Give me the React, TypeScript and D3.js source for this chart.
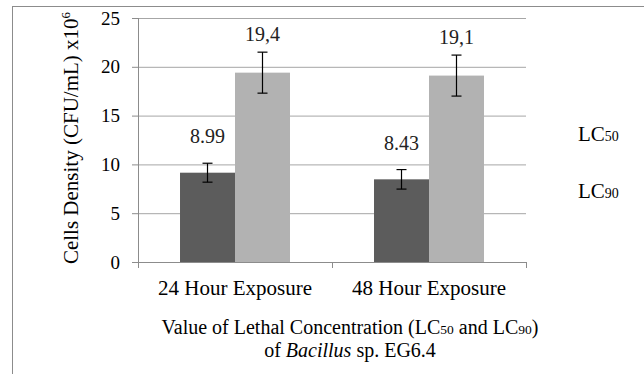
import React from 'react'
import * as d3 from 'd3'

const categories = ['24 Hour Exposure', '48 Hour Exposure']
const series = ['LC50', 'LC90']
const lc50Values = [9.15, 8.47]
const lc90Values = [19.4, 19.1]
const lc50Errors = [0.97, 1.0]
const lc90Errors = [2.1, 2.1]
const lc50Labels = ['8.99', '8.43']
const lc90Labels = ['19,4', '19,1']
const yTicks = [0, 5, 10, 15, 20, 25]

const W = 644
const H = 374
const ts = { fontFamily: "'Liberation Serif'" }
const colors = { LC50: '#5c5c5c', LC90: '#b2b2b2' }
const labelGap = { LC50: 20, LC90: 11.5 }

export default function App() {
  const y = d3.scaleLinear().domain([0, 25]).range([262, 18])
  const x0 = d3.scaleBand().domain(categories).range([138, 526])
  const x1 = d3
    .scaleBand()
    .domain(series)
    .range([0, x0.bandwidth()])
    .paddingInner(0)
    .paddingOuter(0.764)

  const rows = categories.map((c, i) => ({
    cat: c,
    bars: [
      { s: 'LC50', v: lc50Values[i], e: lc50Errors[i], label: lc50Labels[i] },
      { s: 'LC90', v: lc90Values[i], e: lc90Errors[i], label: lc90Labels[i] },
    ],
  }))

  const [x0min, x0max] = x0.range()

  return (
    <svg width={W} height={H} style={{ position: 'absolute', left: 0, top: 0, background: '#fff' }}>
      {/* frame */}
      <line x1={12} x2={W} y1={6.5} y2={6.5} stroke="#8c8c8c" />
      <line x1={12.5} x2={12.5} y1={6} y2={H} stroke="#8c8c8c" />

      {/* grid */}
      {yTicks.map((t) => (
        <g key={t}>
          {t > 0 && (
            <line x1={x0min} x2={x0max} y1={y(t) + 0.5} y2={y(t) + 0.5} stroke="#a6a6a6" />
          )}
          <line x1={x0min - 6} x2={x0min} y1={y(t) + 0.5} y2={y(t) + 0.5} stroke="#8c8c8c" />
          <text x={x0min - 18} y={y(t) + 6.5} textAnchor="end" fontSize={19} fill="#000" style={ts}>
            {t}
          </text>
        </g>
      ))}

      {/* bars */}
      {rows.map((r) => (
        <g key={r.cat} transform={`translate(${x0(r.cat)},0)`}>
          {r.bars.map((b) => {
            const bx = x1(b.s)!
            const cx = bx + x1.bandwidth() / 2
            return (
              <g key={b.s}>
                <rect
                  x={bx}
                  y={y(b.v)}
                  width={x1.bandwidth()}
                  height={y(0) - y(b.v)}
                  fill={colors[b.s]}
                />
                <line x1={cx} x2={cx} y1={y(b.v + b.e)} y2={y(b.v - b.e)} stroke="#000" strokeWidth={1.2} />
                <line x1={cx - 5} x2={cx + 5} y1={y(b.v + b.e)} y2={y(b.v + b.e)} stroke="#000" strokeWidth={1.2} />
                <line x1={cx - 5} x2={cx + 5} y1={y(b.v - b.e)} y2={y(b.v - b.e)} stroke="#000" strokeWidth={1.2} />
                <text
                  x={cx}
                  y={y(b.v + b.e) - labelGap[b.s]}
                  textAnchor="middle"
                  fontSize={20}
                  fill="#222"
                  style={ts}
                >
                  {b.label}
                </text>
              </g>
            )
          })}
        </g>
      ))}

      {/* axes */}
      <line x1={x0min + 0.5} x2={x0min + 0.5} y1={y(25)} y2={y(0)} stroke="#8c8c8c" />
      <line x1={x0min - 6} x2={x0max} y1={y(0) + 0.5} y2={y(0) + 0.5} stroke="#8c8c8c" />
      {[x0min, ...categories.map((c) => x0(c)! + x0.bandwidth())].map((tx, i) => (
        <line key={i} x1={tx + 0.5} x2={tx + 0.5} y1={y(0)} y2={y(0) + 6} stroke="#8c8c8c" />
      ))}
      {categories.map((c) => (
        <text
          key={c}
          x={x0(c)! + x0.bandwidth() / 2}
          y={295}
          textAnchor="middle"
          fontSize={21}
          fill="#000"
          style={ts}
        >
          {c}
        </text>
      ))}

      {/* y title */}
      <text
        transform="translate(78,138) rotate(-90)"
        textAnchor="middle"
        fontSize={21}
        fill="#000"
        style={ts}
      >
        Cells Density (CFU/mL) x10
        <tspan fontSize={13} dy={-8}>6</tspan>
      </text>

      {/* x title */}
      <text x={350} y={334} textAnchor="middle" fontSize={20} fill="#000" style={ts}>
        Value of Lethal Concentration (LC<tspan fontSize={13.5}>50</tspan> and LC
        <tspan fontSize={13.5}>90</tspan>)
      </text>
      <text x={350} y={357} textAnchor="middle" fontSize={20} fill="#000" style={ts}>
        of <tspan fontStyle="italic">Bacillus</tspan> sp. EG6.4
      </text>

      {/* legend (text only) */}
      {series.map((s, i) => (
        <text key={s} x={578} y={141 + i * 57} fontSize={21} fill="#000" style={ts}>
          LC<tspan fontSize={14}>{s.slice(2)}</tspan>
        </text>
      ))}
    </svg>
  )
}
